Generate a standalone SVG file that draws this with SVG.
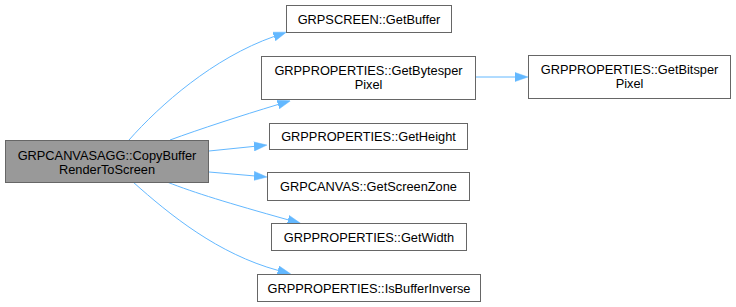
<svg xmlns="http://www.w3.org/2000/svg" width="736" height="307" viewBox="0 0 736 307">
  <style>
    .node rect { fill: #ffffff; stroke: #666666; stroke-width: 1; }
    .node.root rect { fill: #999999; }
    .node text { font-family: "Liberation Sans", Arial, sans-serif; font-size: 12.8px; fill: #000000; text-anchor: middle; }
    .edge { fill: none; stroke: #63b8ff; stroke-width: 1; marker-end: url(#arrow); }
  </style>
  <defs>
    <marker id="arrow" viewBox="0 0 13 10" refX="0" refY="5" markerWidth="13" markerHeight="10" markerUnits="userSpaceOnUse" orient="auto">
      <path d="M0,0.5 L13,5 L0,9.5 z" fill="#63b8ff" stroke="#63b8ff" stroke-width="0.5"/>
    </marker>
  </defs>

  <!-- call edges -->
  <g id="edges">
    <path class="edge" d="M129,140 C160,105 213,58 274,36.5"/>
    <path class="edge" d="M170,140 C200,129 240,116 278,104.5"/>
    <path class="edge" d="M209,151 L254,146.4"/>
    <path class="edge" d="M209,172 L254,175.9"/>
    <path class="edge" d="M167,182 C195,193 228,203 288,219.8"/>
    <path class="edge" d="M133,182 C170,215 218,254 278,270.4"/>
    <path class="edge" d="M475,77 L515,77"/>
  </g>

  <g id="node-copybuffer" class="node root">
    <rect x="5.5" y="140.5" width="203" height="42"/>
    <text x="107" y="159.5">GRPCANVASAGG::CopyBuffer</text>
    <text x="107" y="173.5">RenderToScreen</text>
  </g>

  <g id="node-getbuffer" class="node">
    <rect x="286.5" y="5.5" width="165" height="27"/>
    <text x="369" y="23.5">GRPSCREEN::GetBuffer</text>
  </g>

  <g id="node-getbytesperpixel" class="node">
    <rect x="261.5" y="56.5" width="214" height="43"/>
    <text x="368.5" y="75">GRPPROPERTIES::GetBytesper</text>
    <text x="368.5" y="89">Pixel</text>
  </g>

  <g id="node-getbitsperpixel" class="node">
    <rect x="528.5" y="55.5" width="202" height="43"/>
    <text x="629.5" y="74">GRPPROPERTIES::GetBitsper</text>
    <text x="629.5" y="88">Pixel</text>
  </g>

  <g id="node-getheight" class="node">
    <rect x="269.5" y="123.5" width="198" height="26"/>
    <text x="368.5" y="141">GRPPROPERTIES::GetHeight</text>
  </g>

  <g id="node-getscreenzone" class="node">
    <rect x="267.5" y="172.5" width="202" height="28"/>
    <text x="368.5" y="191">GRPCANVAS::GetScreenZone</text>
  </g>

  <g id="node-getwidth" class="node">
    <rect x="271.5" y="223.5" width="195" height="27"/>
    <text x="369" y="241.5">GRPPROPERTIES::GetWidth</text>
  </g>

  <g id="node-isbufferinverse" class="node">
    <rect x="257.5" y="274.5" width="223" height="27"/>
    <text x="369" y="292.5">GRPPROPERTIES::IsBufferInverse</text>
  </g>
</svg>
